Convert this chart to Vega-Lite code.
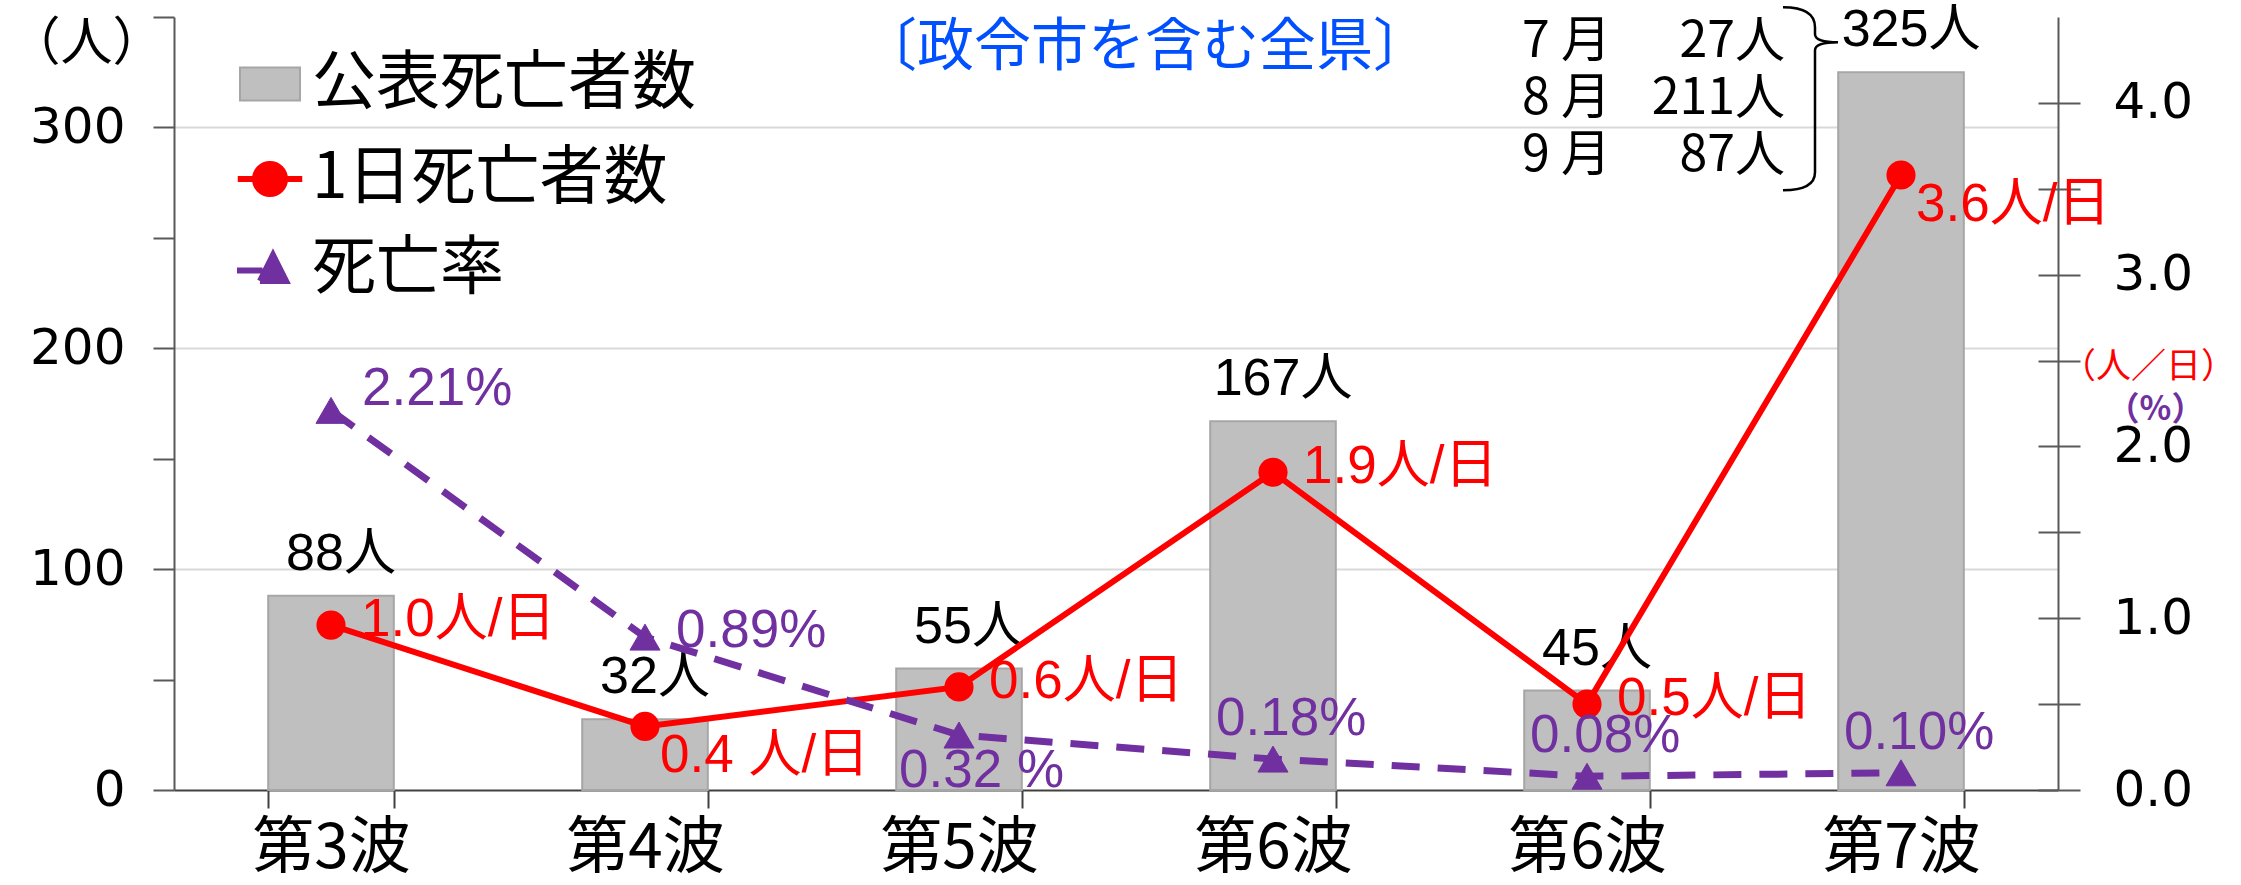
{
  "$schema": "https://vega.github.io/schema/vega-lite/v6.json",
  "width": 1884,
  "height": 773,
  "autosize": {"type": "none"},
  "padding": {"left": 174, "top": 17, "right": 183, "bottom": 95},
  "background": "white",
  "config": {
    "view": {"stroke": null},
    "font": "Liberation Sans, Noto Sans CJK JP, sans-serif",
    "legend": {
      "title": null,
      "orient": "none",
      "padding": 0,
      "labelFont": "Noto Sans CJK JP",
      "labelFontSize": 64,
      "labelColor": "#000000",
      "labelOffset": 10,
      "labelLimit": 0,
      "symbolSize": 900,
      "symbolOpacity": 1
    }
  },
  "datasets": {
    "waves": [
      {"wave": "第3波", "deaths": 88, "deathLabel": "88人", "daily": 0.96, "dailyLabel": "1.0人/日", "rate": 2.21, "rateLabel": "2.21%"},
      {"wave": "第4波", "deaths": 32, "deathLabel": "32人", "daily": 0.37, "dailyLabel": "0.4 人/日", "rate": 0.89, "rateLabel": "0.89%"},
      {"wave": "第5波", "deaths": 55, "deathLabel": "55人", "daily": 0.6, "dailyLabel": "0.6人/日", "rate": 0.32, "rateLabel": "0.32 %"},
      {"wave": "第6波", "deaths": 167, "deathLabel": "167人", "daily": 1.85, "dailyLabel": "1.9人/日", "rate": 0.18, "rateLabel": "0.18%"},
      {"wave": "第6波​", "deaths": 45, "deathLabel": "45人", "daily": 0.5, "dailyLabel": "0.5人/日", "rate": 0.08, "rateLabel": "0.08%"},
      {"wave": "第7波", "deaths": 325, "deathLabel": "325人", "daily": 3.58, "dailyLabel": "3.6人/日", "rate": 0.10, "rateLabel": "0.10%"}
    ]
  },
  "encoding": {
    "x": {
      "field": "wave",
      "type": "nominal",
      "sort": null,
      "scale": {
        "domain": ["第3波", "第4波", "第5波", "第6波", "第6波​", "第7波"],
        "paddingInner": 0.6,
        "paddingOuter": 0.3
      },
      "axis": {
        "title": null,
        "labelAngle": 0,
        "labelFont": "Noto Sans CJK JP",
        "labelFontSize": 62,
        "labelColor": "#000000",
        "labelPadding": 10,
        "tickBand": "extent",
        "tickSize": 18,
        "tickColor": "#404040",
        "tickWidth": 2,
        "domainColor": "#404040",
        "domainWidth": 2,
        "grid": false
      }
    }
  },
  "layer": [
    {
      "layer": [
        {
          "data": {"name": "waves"},
          "mark": {"type": "bar", "stroke": "#a6a6a6", "strokeWidth": 2},
          "encoding": {
            "y": {
              "field": "deaths",
              "type": "quantitative",
              "scale": {"domain": [0, 350], "nice": false},
              "axis": {
                "orient": "left",
                "values": [0, 50, 100, 150, 200, 250, 300, 350],
                "labelExpr": "datum.value % 100 === 0 && datum.value < 350 ? datum.label : ''",
                "labelFont": "DejaVu Sans",
                "labelFontSize": 50,
                "labelColor": "#000000",
                "labelPadding": 28,
                "tickSize": 21,
                "tickColor": "#595959",
                "tickWidth": 2,
                "domainColor": "#595959",
                "domainWidth": 2,
                "grid": true,
                "gridColor": "#d9d9d9",
                "gridWidth": 2,
                "gridOpacity": {"condition": {"test": "datum.value % 100 === 0 && datum.value > 0 && datum.value < 350", "value": 1}, "value": 0},
                "title": "（人）",
                "titleAngle": 0,
                "titleX": -88,
                "titleY": 26,
                "titleAlign": "center",
                "titleBaseline": "middle",
                "titleFont": "Noto Sans CJK JP",
                "titleFontSize": 52,
                "titleFontWeight": "normal",
                "titleColor": "#000000"
              }
            },
            "fill": {
              "datum": "公表死亡者数",
              "scale": {"range": ["#bfbfbf"]},
              "legend": {
                "legendX": 64,
                "legendY": 35,
                "symbolType": "M-2,-1.1H2V1.1H-2Z",
                "symbolFillColor": "#bfbfbf",
                "symbolStrokeColor": "#a6a6a6",
                "symbolStrokeWidth": 2
              }
            }
          }
        },
        {
          "data": {"name": "waves"},
          "mark": {"type": "text", "fontSize": 52, "baseline": "bottom", "align": "center", "dy": -15, "dx": 10, "color": "#000000"},
          "encoding": {
            "y": {"field": "deaths", "type": "quantitative"},
            "text": {"field": "deathLabel"}
          }
        },
        {
          "data": {"values": [{"text": "7 月\n8 月\n9 月"}]},
          "mark": {"type": "text", "font": "Noto Sans CJK JP", "fontSize": 50, "lineHeight": 57, "lineBreak": "\n", "align": "left", "baseline": "top", "dx": -379, "dy": 0, "color": "#000000"},
          "encoding": {
            "x": {"datum": "第7波"},
            "y": {"datum": 350},
            "text": {"field": "text"}
          }
        },
        {
          "data": {"values": [{"text": "27人\n211人\n87人"}]},
          "mark": {"type": "text", "font": "Noto Sans CJK JP", "fontSize": 50, "lineHeight": 57, "lineBreak": "\n", "align": "right", "baseline": "top", "dx": -116, "dy": 0, "color": "#000000"},
          "encoding": {
            "x": {"datum": "第7波"},
            "y": {"datum": 350},
            "text": {"field": "text"}
          }
        },
        {
          "data": {"values": [{"note": "brace"}]},
          "mark": {
            "type": "point",
            "filled": false,
            "shape": "M-1.18,-0.65Q-0.86,-0.65,-0.86,-0.45L-0.86,-0.38Q-0.86,-0.3,-0.63,-0.3Q-0.86,-0.3,-0.86,-0.22L-0.86,1.0Q-0.86,1.18,-1.18,1.18",
            "size": 40000,
            "stroke": "#000000",
            "strokeWidth": 2.5,
            "opacity": 1
          },
          "encoding": {
            "x": {"datum": "第7波"},
            "y": {"datum": 325}
          }
        },
        {
          "data": {"values": [{"text": "〔政令市を含む全県〕"}]},
          "mark": {"type": "text", "font": "Noto Sans CJK JP", "fontSize": 57, "align": "center", "baseline": "middle", "dx": -128, "dy": 31, "color": "#0050ff"},
          "encoding": {
            "x": {"datum": "第6波"},
            "y": {"datum": 350},
            "text": {"field": "text"}
          }
        }
      ]
    },
    {
      "data": {"name": "waves"},
      "encoding": {
        "y": {
          "field": "daily",
          "type": "quantitative",
          "scale": {"domain": [0, 4.5], "nice": false},
          "axis": {
            "orient": "right",
            "values": [0, 0.5, 1, 1.5, 2, 2.5, 3, 3.5, 4],
            "format": ".1f",
            "labelExpr": "datum.value % 1 === 0 ? datum.label : ''",
            "labelFont": "DejaVu Sans",
            "labelFontSize": 50,
            "labelColor": "#000000",
            "labelPadding": 33,
            "tickSize": 22,
            "tickColor": "#595959",
            "tickWidth": 2,
            "domainColor": "#595959",
            "domainWidth": 2,
            "grid": false,
            "title": "（人／日）",
            "titleAngle": 0,
            "titleX": 90,
            "titleY": 349,
            "titleAlign": "center",
            "titleBaseline": "middle",
            "titleFont": "Noto Sans CJK JP",
            "titleFontSize": 35,
            "titleFontWeight": "normal",
            "titleColor": "#ff0000"
          }
        }
      },
      "layer": [
        {
          "mark": {"type": "line", "strokeWidth": 6, "color": "#ff0000"}
        },
        {
          "mark": {"type": "point", "filled": true, "shape": "circle", "size": 850, "opacity": 1},
          "encoding": {
            "color": {
              "datum": "1日死亡者数",
              "scale": {"range": ["#ff0000"]},
              "legend": {
                "legendX": 64,
                "legendY": 130,
                "symbolType": "M-2.15,0H2.15M-1,0A1,1,0,1,1,1,0A1,1,0,1,1,-1,0Z",
                "symbolFillColor": "#ff0000",
                "symbolStrokeColor": "#ff0000",
                "symbolStrokeWidth": 6
              }
            }
          }
        },
        {
          "transform": [{"filter": {"field": "wave", "oneOf": ["第3波", "第5波", "第6波", "第6波​"]}}],
          "mark": {"type": "text", "fontSize": 53, "align": "left", "baseline": "middle", "dx": 30, "dy": -5, "color": "#ff0000"},
          "encoding": {"text": {"field": "dailyLabel"}}
        },
        {
          "transform": [{"filter": {"field": "wave", "oneOf": ["第4波", "第7波"]}}],
          "mark": {"type": "text", "fontSize": 53, "align": "left", "baseline": "middle", "dx": 15, "dy": 30, "color": "#ff0000"},
          "encoding": {"text": {"field": "dailyLabel"}}
        }
      ]
    },
    {
      "data": {"name": "waves"},
      "encoding": {
        "y": {
          "field": "rate",
          "type": "quantitative",
          "scale": {"domain": [0, 4.5], "nice": false},
          "axis": {
            "orient": "right",
            "values": [0, 0.5, 1, 1.5, 2, 2.5, 3, 3.5, 4],
            "labels": false,
            "domain": false,
            "tickSize": -20,
            "tickColor": "#595959",
            "tickWidth": 2,
            "grid": false,
            "title": "（%）",
            "titleAngle": 0,
            "titleX": 97,
            "titleY": 392,
            "titleAlign": "center",
            "titleBaseline": "middle",
            "titleFont": "Noto Sans CJK JP",
            "titleFontSize": 33,
            "titleFontWeight": "bold",
            "titleColor": "#7030a0"
          }
        }
      },
      "layer": [
        {
          "mark": {"type": "line", "strokeWidth": 7, "strokeDash": [28, 18], "color": "#7030a0"}
        },
        {
          "mark": {"type": "point", "filled": true, "shape": "triangle-up", "size": 900, "color": "#7030a0", "strokeWidth": 1, "opacity": 1},
          "encoding": {
            "stroke": {
              "datum": "死亡率",
              "scale": {"range": ["#7030a0"]},
              "legend": {
                "legendX": 64,
                "legendY": 220,
                "symbolType": "M-2.2,0.1H-0.5M-0.67,0.8L0.2,-0.93L1.07,0.8Z",
                "symbolFillColor": "#7030a0",
                "symbolStrokeColor": "#7030a0",
                "symbolStrokeWidth": 6,
                "symbolDash": [100, 0]
              }
            }
          }
        },
        {
          "transform": [{"filter": {"field": "wave", "equal": "第3波"}}],
          "mark": {"type": "text", "fontSize": 53, "align": "left", "baseline": "middle", "dx": 31, "dy": -21, "color": "#7030a0"},
          "encoding": {"text": {"field": "rateLabel"}}
        },
        {
          "transform": [{"filter": {"field": "wave", "equal": "第4波"}}],
          "mark": {"type": "text", "fontSize": 53, "align": "left", "baseline": "middle", "dx": 31, "dy": -6, "color": "#7030a0"},
          "encoding": {"text": {"field": "rateLabel"}}
        },
        {
          "transform": [{"filter": {"field": "wave", "equal": "第5波"}}],
          "mark": {"type": "text", "fontSize": 53, "align": "left", "baseline": "middle", "dx": -60, "dy": 36, "color": "#7030a0"},
          "encoding": {"text": {"field": "rateLabel"}}
        },
        {
          "transform": [{"filter": {"field": "wave", "oneOf": ["第6波", "第6波​", "第7波"]}}],
          "mark": {"type": "text", "fontSize": 53, "align": "left", "baseline": "middle", "dx": -57, "dy": -40, "color": "#7030a0"},
          "encoding": {"text": {"field": "rateLabel"}}
        }
      ]
    }
  ],
  "resolve": {"scale": {"y": "independent"}}
}
